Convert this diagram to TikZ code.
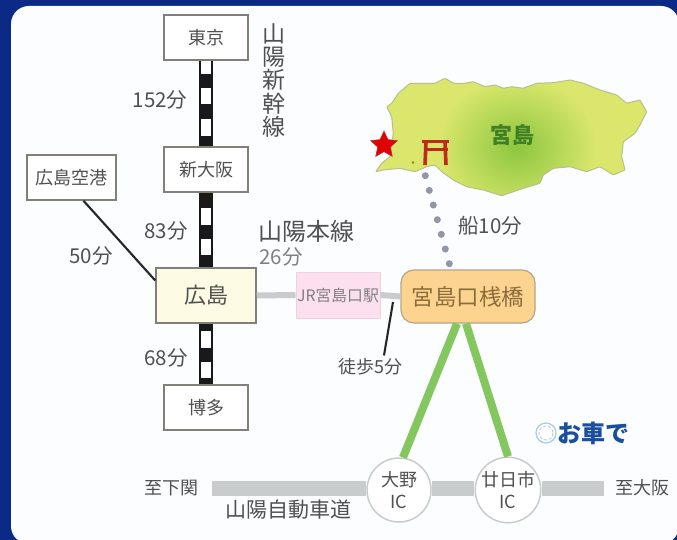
\documentclass[tikz,border=0pt]{standalone}
\usepackage{fontspec}
\setmainfont{Noto Sans CJK JP}
\usetikzlibrary{shapes.geometric}
\definecolor{navy}{HTML}{0B2A85}
\definecolor{card}{HTML}{FBFDFF}
\definecolor{ink}{HTML}{505050}
\definecolor{boxline}{HTML}{808078}
\definecolor{road}{HTML}{C8CCCC}
\definecolor{routegreen}{HTML}{84C75F}
\definecolor{islandpale}{HTML}{DAE76C}
\definecolor{islandcore}{HTML}{8CC63F}
\definecolor{islandline}{HTML}{B8BF8C}
\definecolor{toriired}{HTML}{BE2A1C}
\definecolor{carblue}{HTML}{1A4FA0}
\definecolor{ferrydot}{HTML}{9195A8}
\definecolor{hirofill}{HTML}{FDFBE3}
\definecolor{pierfill}{HTML}{FDD48F}
\definecolor{pierline}{HTML}{B5A585}
\definecolor{piertext}{HTML}{8A6D3B}
\definecolor{jrfill}{HTML}{FDE0EF}
\definecolor{jrline}{HTML}{F4CFE0}
\definecolor{islandtext}{HTML}{3F7F25}
\definecolor{markring}{HTML}{A8C8EC}
\tikzset{
  x=1pt,y=-1pt,
  every node/.style={inner sep=0pt,text=ink},
  stationbox/.style={draw=boxline,line width=1.5pt,fill=white,minimum width=84pt,minimum height=45pt,font=\fontsize{18}{22}\selectfont},
  railbase/.style={line width=14pt,black!90},
  railgap/.style={line width=10pt,white},
  roadline/.style={line width=6pt,road},
  highway/.style={line width=15pt,road},
  carroute/.style={line width=8pt,routegreen},
  blackline/.style={line width=2.1pt,black!85},
  timelabel/.style={font=\fontsize{20.5}{22}\selectfont},
  smalllabel/.style={font=\fontsize{18}{20}\selectfont},
  icnode/.style={circle,draw=road,line width=1.5pt,fill=white,minimum size=64pt,align=center,font=\fontsize{18}{22}\selectfont},
}
\begin{document}
\begin{tikzpicture}
\clip (0,0) rectangle (677,540);
\fill[navy] (0,0) rectangle (677,540);
\fill[card,rounded corners=18pt] (11,6) rectangle (679,544);

% island
\begin{scope}
\def\islandpath{(375.7,171.7) -- (381.7,163.3) -- (390,156.7) -- (393.3,133.3) -- (391.7,116.7) -- (386.7,106.7) -- (391.7,103.3) -- (398.3,93.3) -- (410,83.3) -- (423.3,83.3) -- (435,83.3) -- (445,78.3) -- (453.3,83.3) -- (465,83.3) -- (473.3,81.7) -- (485,86.7) -- (495,85) -- (503.3,88.3) -- (511.7,86.7) -- (523.3,88.3) -- (536.7,83.3) -- (553.3,82.7) -- (570,80) -- (583.3,83.3) -- (600,90) -- (616.7,95) -- (626.7,103.3) -- (640,100) -- (646.7,111.7) -- (640,125) -- (635,133.3) -- (623.3,141.7) -- (621.7,156.7) -- (625,170) -- (613.3,175) -- (600,166.7) -- (586.7,171.7) -- (570,166.7) -- (553.3,168.3) -- (543.3,175) -- (540,183.3) -- (523.3,188.3) -- (501.7,195.7) -- (483.3,190) -- (466.7,186.7) -- (453.3,180) -- (441.7,171.7) -- (435,165) -- (426.7,166.7) -- (415,171.7) -- (400,168.3) -- (383.3,170) -- cycle}
\begin{scope}
\clip \islandpath;
\fill[islandpale] (370,70) rectangle (650,200);
\shade[inner color=islandcore,outer color=islandpale] (517,147) ellipse [x radius=80,y radius=70];
\end{scope}
\draw[islandline,line width=1pt,rounded corners=1pt] \islandpath;
\end{scope}
\node[star,star points=5,star point ratio=2.1,minimum size=28pt,fill=red!88!black,draw=red!65!black!80,line width=.6pt] (starmark) at (384,145) {};
\fill[olive] (413,162.5) circle (1.3);
\node[font=\fontsize{22}{24}\bfseries\selectfont,text=islandtext] (miyajima) at (512,135) {宮島};
% torii
\draw[toriired,line width=3.4pt] (422,141.5) -- (449,141.5);
\draw[toriired,line width=3pt] (423.5,150) -- (447.5,150);
\draw[toriired,line width=3.6pt] (426,142) -- (425,165);
\draw[toriired,line width=3.6pt] (445,142) -- (446,165);

% stations
\node[stationbox] (tokyo) at (206,37.5) {東京};
\node[stationbox] (shinosaka) at (206,169.5) {新大阪};
\node[stationbox,minimum width=89pt] (airport) at (71.5,177.5) {広島空港};
\node[stationbox,minimum width=100pt,minimum height=55pt,fill=hirofill,font=\fontsize{22}{24}\selectfont] (hiroshima) at (206,295.5) {広島};
\node[stationbox] (hakata) at (206,407.5) {博多};
\node[draw=jrline,line width=1pt,fill=jrfill,minimum width=84pt,minimum height=46pt,font=\fontsize{15.8}{18}\selectfont,text=gray] (jr) at (338,295) {JR宮島口駅};
\node[draw=pierline,line width=1.2pt,rounded corners=13pt,fill=pierfill,minimum width=134pt,minimum height=53pt,font=\fontsize{22.5}{24}\selectfont,text=piertext] (pier) at (468,296.5) {宮島口桟橋};

% rail
\draw[railbase] (tokyo.south) -- (shinosaka.north);
\draw[railgap,dash pattern=on 13pt off 14pt on 16pt off 15pt on 17pt off 30pt] (tokyo.south) -- (shinosaka.north);
\draw[railbase] (shinosaka.south) -- (hiroshima.north);
\draw[railgap,dash pattern=on 0pt off 15pt on 17pt off 14pt on 16pt off 30pt] (shinosaka.south) -- (hiroshima.north);
\draw[railbase] (hiroshima.south) -- (hakata.north);
\draw[railgap,dash pattern=on 0pt off 7pt on 17pt off 14pt on 16pt off 30pt] (hiroshima.south) -- (hakata.north);

% local links
\draw[roadline] (hiroshima.east) -- (jr.west);
\draw[roadline] (jr.east) -- (pier.west);
\draw[blackline] ([xshift=12pt]airport.south) -- ([yshift=15pt]hiroshima.west);

% ferry
\coordinate (ferrystart) at (425.3,175.7);
\coordinate (ferryend) at (451,270);
\draw[line width=7pt,line cap=round,dash pattern=on 0pt off 15.2pt,ferrydot] (ferrystart) -- (ferryend);

% highway
\coordinate (hwleft) at (212,488);
\coordinate (hwright) at (604,488);
\node[icnode] (oono) at (399,490) {大野\\IC};
\node[icnode] (hatsu) at (508,490) {廿日市\\IC};
\draw[highway] (hwleft) -- (oono.west |- hwleft);
\draw[highway] (oono.east |- hwleft) -- (hatsu.west |- hwleft);
\draw[highway] (hatsu.east |- hwright) -- (hwright);
\draw[carroute] ([xshift=-11pt]pier.south) -- (oono.83);
\draw[carroute] ([xshift=-2pt]pier.south) -- (hatsu.north);

% walking
\coordinate (walktop) at (393,302);
\node[smalllabel] (walk) at (370,367) {徒歩5分};
\draw[blackline] (walktop) -- ([xshift=14pt,yshift=3pt]walk.north);

% labels
\node[align=center,font=\fontsize{23}{23.2}\selectfont] (sanyoshinkansen) at (273.5,80.5) {山\\陽\\新\\幹\\線};
\node[timelabel] (t152) at (160,100) {152分};
\node[timelabel] (t83) at (166,231) {83分};
\node[timelabel] (t50) at (91,256) {50分};
\node[timelabel] (t68) at (166,358) {68分};
\node[font=\fontsize{24}{26}\selectfont] (sanyomain) at (306,231) {山陽本線};
\node[timelabel,text=gray] (t26) at (281,257) {26分};
\node[font=\fontsize{20.5}{22}\selectfont] (ship) at (490,226) {船10分};
\node[smalllabel] (shimonoseki) at (171,488) {至下関};
\node[smalllabel] (osaka) at (642,488) {至大阪};
\node[font=\fontsize{21}{24}\selectfont] (expressway) at (288,510) {山陽自動車道};
\node[font=\fontsize{24}{26}\bfseries\selectfont,text=carblue] (bycar) at (593,433) {お車で};
\node[circle,draw=markring,line width=1.2pt,minimum size=20pt,fill=white] (carmark) at (546,433) {};
\draw[markring,line width=.8pt,densely dashed] (carmark.center) circle (7);
\end{tikzpicture}
\end{document}
